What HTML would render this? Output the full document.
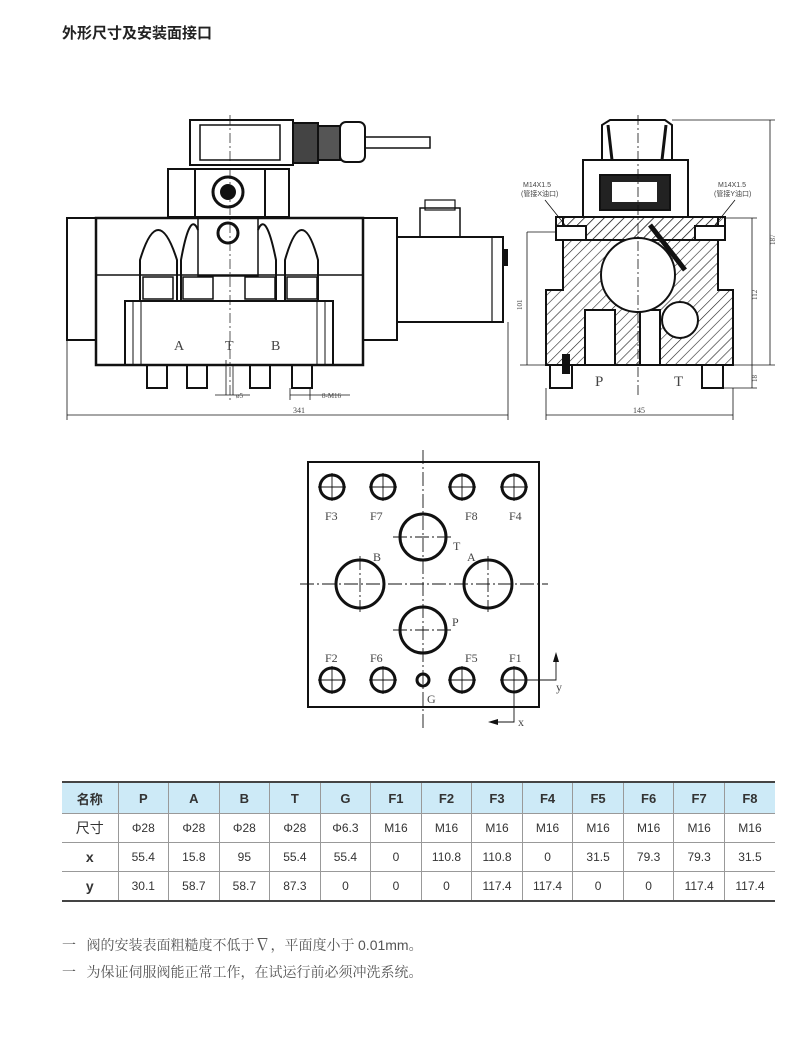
<!DOCTYPE html>
<html><head><meta charset="utf-8"><style>
body{margin:0;background:#fff;width:800px;height:1046px;overflow:hidden;font-family:"Liberation Sans","Noto Sans CJK SC",sans-serif}
.t{position:absolute;left:62px;top:22px;font-size:15px;font-weight:bold;color:#222}
table{position:absolute;left:62px;top:781px;border-collapse:collapse;width:713px;table-layout:fixed;font-size:12px;color:#333}
td{border-left:1px solid #999;border-right:1px solid #999;border-bottom:1px solid #999;text-align:center;height:28px;padding:0}
tr:first-child td{background:#cdeaf7;font-weight:bold;font-size:13px;height:30px}
table{border-top:2px solid #444;border-bottom:2px solid #444}
td:first-child{border-left:none;font-size:14px}
td:last-child{border-right:none}
.n{position:absolute;left:62px;font-size:14px;color:#555;font-family:"Liberation Serif","Noto Serif CJK SC",serif}
</style></head><body>
<div class="t">外形尺寸及安装面接口</div>
<svg width="800" height="1046" style="position:absolute;left:0;top:0" font-family="Liberation Serif,serif">
<defs><pattern id="h" width="7" height="7" patternUnits="userSpaceOnUse" patternTransform="rotate(45)"><line x1="0" y1="0" x2="0" y2="7" stroke="#222" stroke-width="1.2"/></pattern></defs>
<g fill="none" stroke="#111" stroke-width="2">
<rect x="190" y="120" width="103" height="45"/>
<rect x="200" y="125" width="80" height="35" stroke-width="1.5"/>
<rect x="293" y="123" width="25" height="40" fill="#444"/>
<rect x="318" y="126" width="22" height="34" fill="#555"/>
<rect x="340" y="122" width="25" height="40" rx="6"/>
<rect x="365" y="137" width="65" height="11" stroke-width="1.5"/>
<rect x="168" y="169" width="121" height="48"/>
<line x1="195" y1="169" x2="195" y2="217"/><line x1="265" y1="169" x2="265" y2="217"/>
<circle cx="228" cy="192" r="15" stroke-width="3"/><circle cx="228" cy="192" r="7" fill="#111"/>
<rect x="67" y="218" width="29" height="122"/>
<rect x="96" y="218" width="267" height="147" stroke-width="2.5"/>
<rect x="363" y="218" width="34" height="122"/>
<line x1="96" y1="275" x2="363" y2="275" stroke-width="1.5"/>
<path d="M140 300 V260 Q158 200 177 260 V300"/>
<path d="M181 300 V260 Q190 210 198 230"/>
<path d="M258 230 Q266 210 276 260 V300"/>
<path d="M285 300 V260 Q302 200 318 260 V300"/>
<rect x="198" y="218" width="60" height="58" stroke-width="1.5"/>
<circle cx="228" cy="233" r="10" stroke-width="3"/>
<rect x="143" y="277" width="30" height="22" stroke-width="1.5"/><rect x="183" y="277" width="30" height="22" stroke-width="1.5"/>
<rect x="245" y="277" width="30" height="22" stroke-width="1.5"/><rect x="287" y="277" width="30" height="22" stroke-width="1.5"/>
<rect x="125" y="301" width="208" height="64" stroke-width="2"/>
<line x1="133" y1="301" x2="133" y2="365" stroke-width="1"/><line x1="141" y1="301" x2="141" y2="365" stroke-width="1"/>
<line x1="317" y1="301" x2="317" y2="365" stroke-width="1"/><line x1="325" y1="301" x2="325" y2="365" stroke-width="1"/>
<rect x="147" y="365" width="20" height="23"/><rect x="187" y="365" width="20" height="23"/><rect x="250" y="365" width="20" height="23"/><rect x="292" y="365" width="20" height="23"/>
<rect x="397" y="237" width="106" height="85"/>
<line x1="492" y1="237" x2="492" y2="322" stroke-width="1.2"/>
<rect x="420" y="208" width="40" height="29" stroke-width="1.5"/><rect x="425" y="200" width="30" height="10" stroke-width="1.2"/>
<rect x="503" y="250" width="4" height="15" fill="#111"/>
<line x1="230" y1="115" x2="230" y2="400" stroke-width="0.7" stroke-dasharray="10,3,2,3"/>
<g stroke-width="0.8"><line x1="67" y1="340" x2="67" y2="420"/><line x1="508" y1="322" x2="508" y2="420"/><line x1="67" y1="415" x2="508" y2="415"/>
<line x1="290" y1="388" x2="290" y2="400"/><line x1="310" y1="388" x2="310" y2="400"/><line x1="290" y1="395" x2="350" y2="395"/>
<line x1="215" y1="395" x2="250" y2="395"/><line x1="226" y1="360" x2="226" y2="395"/><line x1="233" y1="365" x2="233" y2="395"/></g>
<path d="M602 160 V125 L610 120 H665 L672 125 V160" />
<path d="M612 160 L608 125 M662 160 L666 125" stroke-width="3"/>
<rect x="583" y="160" width="105" height="57"/>
<rect x="600" y="175" width="70" height="35" fill="#222"/>
<rect x="612" y="182" width="45" height="20" fill="#fff" stroke="none"/>
<path d="M563 217 H718 V290 H733 V365 H546 V290 H563 Z" fill="url(#h)"/>
<rect x="556" y="217" width="169" height="23" fill="url(#h)"/>
<rect x="556" y="226" width="30" height="14" fill="#fff"/><rect x="695" y="226" width="30" height="14" fill="#fff"/>
<rect x="585" y="310" width="30" height="55" fill="#fff"/>
<rect x="640" y="310" width="20" height="55" fill="#fff"/>
<circle cx="638" cy="275" r="37" fill="#fff"/>
<circle cx="680" cy="320" r="18" fill="#fff"/>
<line x1="650" y1="225" x2="685" y2="270" stroke-width="5"/>
<rect x="550" y="365" width="22" height="23"/><rect x="702" y="365" width="21" height="23"/>
<rect x="563" y="355" width="6" height="18" fill="#111"/>
<g stroke-width="0.8"><line x1="638" y1="115" x2="638" y2="395" stroke-dasharray="10,3,2,3"/>
<line x1="672" y1="120" x2="775" y2="120"/><line x1="770" y1="120" x2="770" y2="365"/>
<line x1="725" y1="218" x2="757" y2="218"/><line x1="752" y1="218" x2="752" y2="388"/><line x1="723" y1="388" x2="757" y2="388"/>
<line x1="527" y1="232" x2="556" y2="232"/><line x1="527" y1="232" x2="527" y2="365"/><line x1="520" y1="365" x2="775" y2="365"/>
<line x1="546" y1="388" x2="546" y2="420"/><line x1="733" y1="388" x2="733" y2="420"/><line x1="546" y1="415" x2="733" y2="415"/>
<line x1="545" y1="200" x2="565" y2="225"/><line x1="735" y1="200" x2="715" y2="225"/></g>
<rect x="308" y="462" width="231" height="245"/>
<g stroke-width="3">
<circle cx="332" cy="487" r="12"/><circle cx="383" cy="487" r="12"/><circle cx="462" cy="487" r="12"/><circle cx="514" cy="487" r="12"/>
<circle cx="332" cy="680" r="12"/><circle cx="383" cy="680" r="12"/><circle cx="462" cy="680" r="12"/><circle cx="514" cy="680" r="12"/>
<circle cx="423" cy="680" r="6"/>
<circle cx="423" cy="537" r="23"/><circle cx="423" cy="630" r="23"/><circle cx="360" cy="584" r="24"/><circle cx="488" cy="584" r="24"/></g>
<g stroke-width="0.9">
<path d="M318 487 H346 M332 473 V501 M369 487 H397 M383 473 V501 M448 487 H476 M462 473 V501 M500 487 H528 M514 473 V501"/>
<path d="M318 680 H346 M332 666 V694 M369 680 H397 M383 666 V694 M448 680 H476 M462 666 V694 M500 680 H542 M514 666 V722 H490"/>
<path d="M393 537 H453 M393 630 H453 M423 450 V730 M300 584 H548 M360 556 V612 M488 556 V612" stroke-dasharray="14,3,2,3"/>
<path d="M542 680 H556 V655"/></g>
</g>
<polygon points="556,652 553,662 559,662" fill="#111"/><polygon points="488,722 498,719 498,725" fill="#111"/>
<g font-size="12" fill="#444">
<text x="174" y="350" font-size="14">A</text><text x="225" y="350" font-size="14">T</text><text x="271" y="350" font-size="14">B</text>
<text x="236" y="398" font-size="7">ø5</text><text x="322" y="398" font-size="7">8-M16</text><text x="293" y="413" font-size="8">341</text>
<text x="595" y="386" font-size="15">P</text><text x="674" y="386" font-size="15">T</text><text x="633" y="413" font-size="8">145</text>
<text font-size="7" x="523" y="187" font-family="Liberation Sans,Noto Sans CJK SC,sans-serif">M14X1.5</text>
<text font-size="7" x="521" y="196" font-family="Liberation Sans,Noto Sans CJK SC,sans-serif">(管接X油口)</text>
<text font-size="7" x="718" y="187" font-family="Liberation Sans,Noto Sans CJK SC,sans-serif">M14X1.5</text>
<text font-size="7" x="714" y="196" font-family="Liberation Sans,Noto Sans CJK SC,sans-serif">(管接Y油口)</text>
<text font-size="7" x="775" y="245" transform="rotate(-90 775 245)">187</text>
<text font-size="7" x="757" y="300" transform="rotate(-90 757 300)">112</text>
<text font-size="7" x="522" y="310" transform="rotate(-90 522 310)">101</text>
<text font-size="7" x="757" y="382" transform="rotate(-90 757 382)">18</text>
<text x="325" y="520">F3</text><text x="370" y="520">F7</text><text x="465" y="520">F8</text><text x="509" y="520">F4</text>
<text x="325" y="662">F2</text><text x="370" y="662">F6</text><text x="465" y="662">F5</text><text x="509" y="662">F1</text>
<text x="453" y="550">T</text><text x="373" y="561">B</text><text x="467" y="561">A</text><text x="452" y="626">P</text><text x="427" y="703">G</text>
<text x="556" y="691">y</text><text x="518" y="726">x</text>
</g>
</svg>
<table>
<colgroup><col style="width:56px"><col span="13" style="width:50.5px"></colgroup>
<tr><td>名称</td><td>P</td><td>A</td><td>B</td><td>T</td><td>G</td><td>F1</td><td>F2</td><td>F3</td><td>F4</td><td>F5</td><td>F6</td><td>F7</td><td>F8</td></tr>
<tr><td>尺寸</td><td>Φ28</td><td>Φ28</td><td>Φ28</td><td>Φ28</td><td>Φ6.3</td><td>M16</td><td>M16</td><td>M16</td><td>M16</td><td>M16</td><td>M16</td><td>M16</td><td>M16</td></tr>
<tr><td><b>x</b></td><td>55.4</td><td>15.8</td><td>95</td><td>55.4</td><td>55.4</td><td>0</td><td>110.8</td><td>110.8</td><td>0</td><td>31.5</td><td>79.3</td><td>79.3</td><td>31.5</td></tr>
<tr><td><b>y</b></td><td>30.1</td><td>58.7</td><td>58.7</td><td>87.3</td><td>0</td><td>0</td><td>0</td><td>117.4</td><td>117.4</td><td>0</td><td>0</td><td>117.4</td><td>117.4</td></tr>
</table>
<div class="n" style="top:932px">一&nbsp;&nbsp; 阀的安装表面粗糙度不低于<span style="font-size:16px">∇</span>，平面度小于 <span style="font-family:'Liberation Sans',sans-serif">0.01mm</span>。</div>
<div class="n" style="top:962px">一&nbsp;&nbsp; 为保证伺服阀能正常工作，在试运行前必须冲洗系统。</div>
</body></html>
